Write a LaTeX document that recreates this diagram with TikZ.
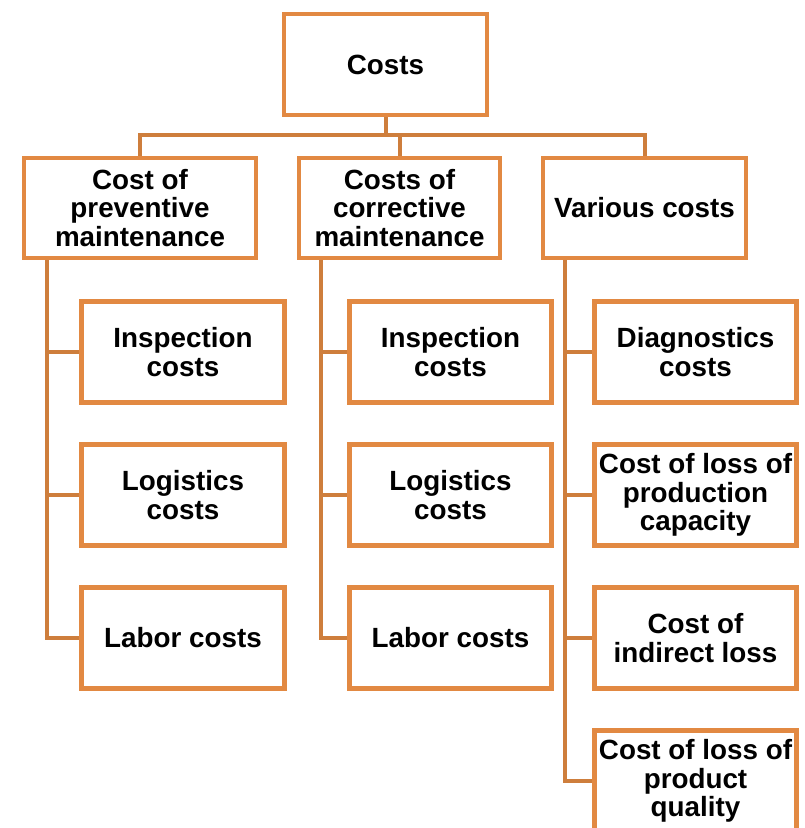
\documentclass[tikz,border=0pt]{standalone}
\usepackage{fontspec}
\setmainfont{Liberation Sans}
\definecolor{boxorange}{RGB}{226,137,66}
\definecolor{linkorange}{RGB}{206,126,60}

\begin{document}
\begin{tikzpicture}[x=1pt,y=-1pt]
    \tikzstyle{costbox}=[draw=boxorange,line width=4.3pt,fill=white,align=center,inner sep=1pt,minimum width=203pt,minimum height=101pt,font=\fontsize{27.8}{28.5}\selectfont\bfseries]
    \tikzstyle{link}=[draw=linkorange,line width=4pt]

    \clip (0,0) rectangle (805,828);

    \node (cost)[costbox] at (385.5,64.5) {Costs};

    \node (prev)[costbox,minimum width=232pt,minimum height=100pt] at (140,208) {Cost of\\preventive\\maintenance};
    \node (corr)[costbox,minimum width=201pt,minimum height=100pt] at (399.5,208) {Costs of\\corrective\\maintenance};
    \node (vari)[costbox,minimum height=100pt] at (644.5,208) {Various costs};

    \node (insA)[costbox] at (183,352) {Inspection\\costs};
    \node (logA)[costbox] at (183,495) {Logistics\\costs};
    \node (labA)[costbox] at (183,638) {Labor costs};

    \node (insB)[costbox,minimum width=202pt] at (450.5,352) {Inspection\\costs};
    \node (logB)[costbox,minimum width=202pt] at (450.5,495) {Logistics\\costs};
    \node (labB)[costbox,minimum width=202pt] at (450.5,638) {Labor costs};

    \node (diag)[costbox,minimum width=202pt] at (695.5,352) {Diagnostics\\costs};
    \node (capa)[costbox,minimum width=202pt] at (695.5,495) {Cost of loss of\\production\\capacity};
    \node (indi)[costbox,minimum width=202pt] at (695.5,638) {Cost of\\indirect loss};
    \node (qual)[costbox,minimum width=202pt] at (695.5,781) {Cost of loss of\\product\\quality};

    \coordinate (bar) at (0,135);
    \coordinate (tA) at (47,0);
    \coordinate (tB) at (321,0);
    \coordinate (tC) at (565,0);

    \draw[link] (cost.south) -- (cost.south |- bar);
    \draw[link] (prev.north) |- (vari.north |- bar) -- (vari.north);
    \draw[link] (corr.north) -- (corr.north |- bar);

    \draw[link] (tA |- prev.south) |- (labA.west);
    \draw[link] (tB |- corr.south) |- (labB.west);
    \draw[link] (tC |- vari.south) |- (qual.west);
    \foreach \c in {insA,logA} \draw[link] (tA |- \c.west) -- (\c.west);
    \foreach \c in {insB,logB} \draw[link] (tB |- \c.west) -- (\c.west);
    \foreach \c in {diag,capa,indi} \draw[link] (tC |- \c.west) -- (\c.west);
\end{tikzpicture}
\end{document}
